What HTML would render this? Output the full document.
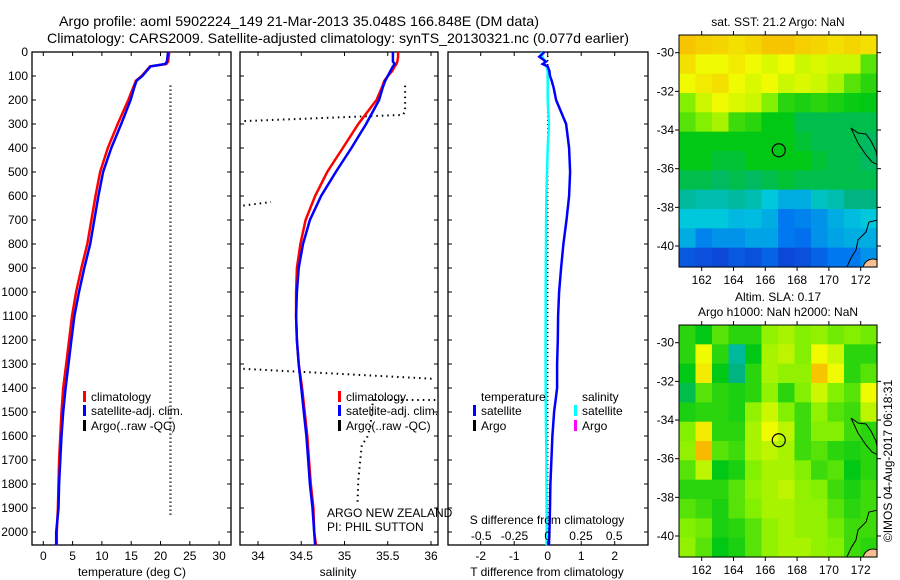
<!DOCTYPE html>
<html><head><meta charset="utf-8"><style>
html,body{margin:0;padding:0;background:#fff;}
svg{display:block;font-family:"Liberation Sans",sans-serif;}
</style></head><body>
<svg id="c" width="900" height="580" xmlns="http://www.w3.org/2000/svg"></svg>
<script>
// ---- data ----
const depths=[0,20,40,50,60,80,100,120,150,200,300,400,500,600,700,800,900,1000,1100,1200,1300,1400,1500,1600,1700,1800,1900,2000,2055];
const tempClim=[21.5,21.4,21.3,21.0,18.2,17.5,16.8,15.8,15.3,14.5,12.7,11.0,9.7,8.9,8.2,7.5,6.5,5.6,4.9,4.4,3.9,3.4,3.1,2.9,2.7,2.6,2.5,2.3,2.3];
const tempSat=[21.3,21.2,21.1,20.8,18.3,17.6,16.9,15.9,15.5,14.9,13.3,11.6,10.2,9.4,8.7,8.0,7.0,6.1,5.3,4.8,4.3,3.8,3.4,3.1,2.9,2.7,2.6,2.2,2.2];
const salClim=[35.62,35.62,35.61,35.6,35.58,35.55,35.5,35.46,35.43,35.37,35.16,34.98,34.8,34.66,34.55,34.49,34.45,34.44,34.44,34.45,34.47,34.51,34.54,34.57,34.59,34.61,34.64,34.65,34.67];
const salSat=[35.56,35.56,35.56,35.58,35.56,35.53,35.5,35.47,35.44,35.4,35.25,35.08,34.9,34.73,34.6,34.52,34.47,34.45,34.44,34.45,34.47,34.5,34.53,34.56,34.58,34.6,34.63,34.65,34.66];
const tDiff=[-0.1,-0.25,-0.05,-0.15,0.0,0.05,0.07,0.12,0.18,0.25,0.55,0.64,0.67,0.64,0.56,0.47,0.4,0.34,0.31,0.3,0.28,0.28,0.19,0.14,0.11,0.08,0.07,0.05,0.04];
const sDiff=[-0.05,-0.04,-0.02,-0.03,-0.01,0.0,0.0,0.0,0.0,0.0,0.01,0.0,-0.005,-0.01,-0.012,-0.013,-0.014,-0.015,-0.015,-0.016,-0.016,-0.015,-0.014,-0.012,-0.01,-0.009,-0.008,-0.008,-0.008];
const argoTempVal=21.7, argoTempTop=140, argoTempBot=1930;
const argoSalSegs=[
 [[35.7,140],[35.7,250],[35.67,262],[33.83,288]],
 [[33.83,640],[34.15,625]],
 [[33.83,1320],[36.05,1362]],
 [[36.05,1450],[35.33,1450],[35.3,1560],[35.26,1608],[35.2,1637],[35.16,1783],[35.15,1880]]
];
const depthTicks=[0,100,200,300,400,500,600,700,800,900,1000,1100,1200,1300,1400,1500,1600,1700,1800,1900,2000];
const tTicks=[0,5,10,15,20,25,30];
const sTicks=[34,34.5,35,35.5,36];
const dtTicks=[-2,-1,0,1,2];
const dsTicks=[-0.5,-0.25,0,0.25,0.5];
const dsTickLabels=["-0.5","-0.25","0","0.25","0.5"];
const lonTicks=[162,164,166,168,170,172];
const latTicks=[-30,-32,-34,-36,-38,-40];
const argoLon=166.848, argoLat=-35.048;
const sstGrid=[
[0.95,0.93,0.92,0.9,0.92,0.95,0.95,0.93,0.92,0.9,0.92,0.9],
[0.9,0.85,0.85,0.88,0.85,0.82,0.85,0.8,0.82,0.8,0.8,0.65],
[0.85,0.88,0.9,0.85,0.82,0.85,0.8,0.82,0.8,0.75,0.65,0.6],
[0.7,0.8,0.85,0.82,0.8,0.7,0.6,0.58,0.6,0.58,0.56,0.55],
[0.65,0.7,0.75,0.62,0.6,0.55,0.55,0.5,0.5,0.5,0.5,0.5],
[0.55,0.55,0.55,0.55,0.55,0.55,0.55,0.52,0.5,0.5,0.5,0.48],
[0.55,0.55,0.52,0.52,0.55,0.55,0.55,0.55,0.52,0.5,0.5,0.48],
[0.5,0.5,0.48,0.5,0.48,0.5,0.52,0.5,0.5,0.5,0.5,0.5],
[0.42,0.4,0.4,0.42,0.4,0.35,0.3,0.3,0.38,0.4,0.45,0.45],
[0.35,0.35,0.35,0.32,0.33,0.3,0.2,0.22,0.25,0.3,0.33,0.35],
[0.3,0.22,0.25,0.25,0.28,0.28,0.2,0.18,0.25,0.28,0.3,0.3],
[0.12,0.1,0.08,0.12,0.1,0.15,0.08,0.1,0.15,0.2,0.2,0.25]];
const slaGrid=[
[0.6,0.55,0.65,0.6,0.6,0.72,0.75,0.7,0.72,0.68,0.7,0.68],
[0.6,0.85,0.6,0.42,0.55,0.75,0.78,0.7,0.85,0.8,0.6,0.6],
[0.55,0.88,0.55,0.45,0.6,0.75,0.72,0.72,0.95,0.85,0.6,0.65],
[0.5,0.65,0.6,0.58,0.6,0.72,0.6,0.7,0.8,0.7,0.65,0.85],
[0.58,0.6,0.6,0.58,0.72,0.8,0.7,0.62,0.72,0.65,0.62,0.78],
[0.7,0.88,0.6,0.6,0.75,0.85,0.78,0.62,0.7,0.7,0.62,0.6],
[0.72,0.97,0.65,0.62,0.75,0.78,0.75,0.62,0.65,0.6,0.58,0.6],
[0.65,0.78,0.55,0.58,0.7,0.75,0.75,0.7,0.62,0.65,0.55,0.6],
[0.6,0.6,0.6,0.65,0.72,0.75,0.78,0.72,0.7,0.62,0.58,0.62],
[0.65,0.62,0.58,0.65,0.7,0.75,0.75,0.72,0.72,0.65,0.6,0.62],
[0.7,0.68,0.58,0.6,0.65,0.72,0.75,0.72,0.72,0.68,0.62,0.62],
[0.72,0.65,0.55,0.58,0.65,0.72,0.75,0.75,0.72,0.7,0.62,0.6]];

// ---- helpers ----
const svg=document.getElementById('c');
const NS='http://www.w3.org/2000/svg';
function mk(tag,attrs,parent){const e=document.createElementNS(NS,tag);for(const k in attrs)e.setAttribute(k,attrs[k]);(parent||svg).appendChild(e);return e;}
function txt(x,y,s,size,anchor,parent){const t=mk('text',{x:x,y:y,'font-size':size||12,'text-anchor':anchor||'middle',fill:'#000'},parent);t.textContent=s;return t;}
const yD=d=>52+d*0.24;
const xT=t=>43.3+t*5.86;
const xS=s=>258+(s-34)*86.5;
const xDT=t=>547.7+t*33.5;
const xDS=s=>547.7+s*133;

// titles
let t1=txt(59,26,"Argo profile: aoml 5902224_149 21-Mar-2013 35.048S 166.848E (DM data)",14,'start');
t1.setAttribute('textLength','480');t1.setAttribute('lengthAdjust','spacingAndGlyphs');


let t2=txt(47,43,"Climatology: CARS2009. Satellite-adjusted climatology: synTS_20130321.nc (0.077d earlier)",14,'start');
t2.setAttribute('textLength','582');t2.setAttribute('lengthAdjust','spacingAndGlyphs');



function panel(x0,x1,name){
  const g=mk('g',{});
  
  
  mk('rect',{x:x0,y:52,width:x1-x0,height:493,fill:'none',stroke:'#000','stroke-width':1.3},g);
  depthTicks.forEach(d=>{mk('line',{x1:x0,x2:x0+4,y1:yD(d),y2:yD(d),stroke:'#000'},g);mk('line',{x1:x1-4,x2:x1,y1:yD(d),y2:yD(d),stroke:'#000'},g);});
  return g;
}
function line(xs,ds,sx,color,w,parent,name){
  const pts=xs.map((v,i)=>sx(v).toFixed(1)+','+yD(ds[i]).toFixed(1)).join(' ');
  const p=mk('polyline',{points:pts,fill:'none',stroke:color,'stroke-width':w},parent);
  
  
  return p;
}
function xticks(g,ticks,labels,sx,x0,x1,y){
  ticks.forEach((v,i)=>{const x=sx(v);mk('line',{x1:x,x2:x,y1:52,y2:56,stroke:'#000'},g);mk('line',{x1:x,x2:x,y1:541,y2:545,stroke:'#000'},g);
  const l=txt(x,y,labels[i],12,'middle',g);});
}
function legendEntry(g,x,y,color,label){
  const r=mk('rect',{x:x,y:y-6,width:3,height:11,fill:color},g);
  const l=txt(x+8,y+4,label,12,'start',g);
  
  
}

// Panel 1: temperature
const g1=panel(32,231,'temperature-panel');
depthTicks.forEach(d=>{const l=txt(28,yD(d)+4,String(d),12,'end',g1);});
xticks(g1,tTicks,tTicks.map(String),xT,32,231,560);
let a1=txt(132,576,"temperature (deg C)",12);
let ad=mk('line',{x1:xT(argoTempVal),x2:xT(argoTempVal),y1:yD(argoTempTop),y2:yD(argoTempBot),stroke:'#000','stroke-width':2.5,'stroke-dasharray':'1 3'},g1);

line(tempClim,depths,xT,'#f00',2.5,g1,'temperature-climatology-line');
line(tempSat,depths,xT,'#00f',2.5,g1,'temperature-satellite-line');
legendEntry(g1,83,397,'#f00','climatology');
legendEntry(g1,83,411,'#00f','satellite-adj. clim.');
legendEntry(g1,83,426,'#000','Argo(..raw -QC)');

// Panel 2: salinity
const g2=panel(240,438,'salinity-panel');
xticks(g2,sTicks,sTicks.map(String),xS,240,438,560);
let a2=txt(338,576,"salinity",12);
const cp=mk('clipPath',{id:'cp2'});mk('rect',{x:241,y:52,width:196,height:493},cp);
const g2c=mk('g',{'clip-path':'url(#cp2)'},g2);
argoSalSegs.forEach(seg=>{
  const p=mk('polyline',{points:seg.map(q=>xS(q[0]).toFixed(1)+','+yD(q[1]).toFixed(1)).join(' '),fill:'none',stroke:'#000','stroke-width':2,'stroke-dasharray':'1.5 4'},g2c);
  
  
});
line(salClim,depths,xS,'#f00',2.5,g2,'salinity-climatology-line');
line(salSat,depths,xS,'#00f',2.5,g2,'salinity-satellite-line');
legendEntry(g2,338,397,'#f00','climatology');
legendEntry(g2,338,411,'#00f','satellite-adj. clim.');
legendEntry(g2,338,426,'#000','Argo(..raw -QC)');
let pi1=txt(327,517,"ARGO NEW ZEALAND",12,'start',g2);
let pi2=txt(327,531,"PI: PHIL SUTTON",12,'start',g2);

// Panel 3: differences
const g3=panel(448,648,'difference-panel');
let zl=mk('line',{x1:xDT(0),x2:xDT(0),y1:52,y2:545,stroke:'#000','stroke-width':1.5,'stroke-dasharray':'1 3'},g3);

line(sDiff,depths,xDS,'#0ff',2.5,g3,'salinity-difference-line');
line(tDiff,depths,xDT,'#00f',2.5,g3,'temperature-difference-line');
dtTicks.forEach(v=>{const x=xDT(v);mk('line',{x1:x,x2:x,y1:541,y2:545,stroke:'#000'},g3);mk('line',{x1:x,x2:x,y1:52,y2:56,stroke:'#000'},g3);
 const l=txt(x,560,String(v),12,'middle',g3);});
dsTicks.forEach((v,i)=>{const l=txt(xDS(v),540,dsTickLabels[i],12,'middle',g3);});
let a3=txt(547,524,"S difference from climatology",12,'middle',g3);
let a4=txt(547,576,"T difference from climatology",12,'middle',g3);
txt(481,401,"temperature",12,'start',g3);
legendEntry(g3,473,411,'#00f','satellite');
legendEntry(g3,473,426,'#000','Argo');
txt(582,401,"salinity",12,'start',g3);
legendEntry(g3,574,411,'#0ff','satellite');
legendEntry(g3,574,426,'#f0f','Argo');

// maps
const cmapStops=[[0,[20,40,200]],[0.2,[0,120,240]],[0.35,[0,200,220]],[0.45,[0,180,130]],[0.55,[0,200,20]],[0.7,[130,240,0]],[0.85,[240,250,0]],[1,[250,170,0]]];
function cmap(v){for(let i=1;i<cmapStops.length;i++){if(v<=cmapStops[i][0]){const a=cmapStops[i-1],b=cmapStops[i];const f=(v-a[0])/(b[0]-a[0]);return 'rgb('+a[1].map((c,k)=>Math.round(c+(b[1][k]-c)*f)).join(',')+')';}}return 'rgb(250,170,0)';}
function map(top,grid,name,titles){
  const g=mk('g',{});
  
  
  const L=679,R=877,T=top,B=top+232;
  const lonX=lon=>701.7+(lon-162)*15.9;
  const latY=lat=>top+17.7+(-30-lat)*19.33;
  const cw=(R-L)/grid[0].length, ch=(B-T)/grid.length;
  grid.forEach((row,r)=>row.forEach((v,c)=>{
    const cell=mk('rect',{x:(L+c*cw).toFixed(2),y:(T+r*ch).toFixed(2),width:(cw+0.6).toFixed(2),height:(ch+0.6).toFixed(2),fill:cmap(v)},g);
    
    
  }));
  const cg=mk('g',{},g);
  const ccp=mk('clipPath',{id:'cc'+top});mk('rect',{x:L,y:T,width:R-L,height:B-T},ccp);
  cg.setAttribute('clip-path','url(#cc'+top+')');
  mk('circle',{cx:873,cy:B+2,r:10,fill:'#f8c090',stroke:'#000'},cg);
  mk('polyline',{points:`851,${T+93} 858,${T+98} 866,${T+99} 871,${T+106} 876,${T+116} 878,${T+128}`,fill:'none',stroke:'#000'},cg);
  mk('polyline',{points:`851,${T+93} 858,${T+108} 866,${T+120} 872,${T+127} 878,${T+130}`,fill:'none',stroke:'#000'},cg);
  mk('polyline',{points:`878,${T+185} 869,${T+187} 866,${T+197} 858,${T+205} 856,${T+215} 851,${T+223} 846,${B+2}`,fill:'none',stroke:'#000'},cg);
  mk('rect',{x:L,y:T,width:R-L,height:B-T,fill:'none',stroke:'#000'},g);
  lonTicks.forEach(v=>{const x=lonX(v);mk('line',{x1:x,x2:x,y1:T-4,y2:T,stroke:'#000'},g);mk('line',{x1:x,x2:x,y1:B,y2:B+4,stroke:'#000'},g);
    const l=txt(x,B+17,String(v),12,'middle',g);});
  latTicks.forEach(v=>{const y=latY(v);mk('line',{x1:L-4,x2:L,y1:y,y2:y,stroke:'#000'},g);mk('line',{x1:R,x2:R+4,y1:y,y2:y,stroke:'#000'},g);
    const l=txt(674,y+4,String(v),12,'end',g);});
  const m=mk('circle',{cx:lonX(argoLon),cy:latY(argoLat),r:6.5,fill:'none',stroke:'#000','stroke-width':1.2},g);
  
  
  titles.forEach(tt=>{const l=txt(778,tt[1],tt[0],12,'middle',g);});
}
map(35,sstGrid,'sst-map',[["sat. SST: 21.2 Argo: NaN",26]]);
map(325,slaGrid,'sla-map',[["Altim. SLA: 0.17",301],["Argo h1000: NaN h2000: NaN",316]]);
const cr=txt(0,0,"©IMOS 04-Aug-2017 06:18:31",12,'middle');
cr.setAttribute('transform','translate(892,461) rotate(-90)');


</script>
</body></html>
